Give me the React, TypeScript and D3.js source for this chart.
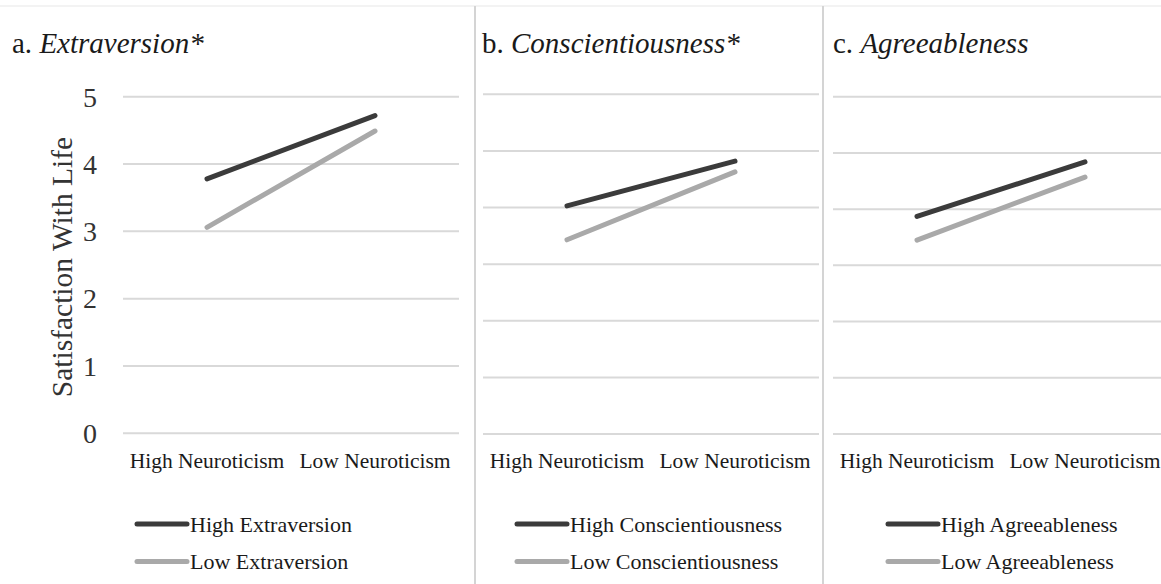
import React, { useEffect, useRef } from 'react';
import * as d3 from 'd3';

const categories = ['High Neuroticism', 'Low Neuroticism'];

const titlePrefixes = ['a. ', 'b. ', 'c. '];
const traitNames = ['Extraversion', 'Conscientiousness', 'Agreeableness'];
const titleStars = ['*', '*', ''];

const highExtraversion = [3.78, 4.72];
const lowExtraversion = [3.06, 4.49];
const highConscientiousness = [4.03, 4.82];
const lowConscientiousness = [3.43, 4.63];
const highAgreeableness = [3.87, 4.84];
const lowAgreeableness = [3.45, 4.57];

const yMaxes = [5, 6, 6];
const yTickLabels = ['0', '1', '2', '3', '4', '5'];

const FONT = "'Liberation Serif', 'Times New Roman', serif";
const DARK = '#3b3b3b';
const LIGHT = '#a9a9a9';
const GRID = '#d9d9d9';

interface Panel {
  plotX: [number, number];
  plotY: [number, number];
  titleX: number;
  legendX: number;
  high: number[];
  low: number[];
  showAxis: boolean;
}

const W = 1161;
const H = 584;

const App: React.FC = () => {
  const ref = useRef<SVGSVGElement | null>(null);

  useEffect(() => {
    const panels: Panel[] = [
      { plotX: [123, 459], plotY: [433.3, 96.7], titleX: 12, legendX: 137, high: highExtraversion, low: lowExtraversion, showAxis: true },
      { plotX: [483, 819], plotY: [434, 94.3], titleX: 482, legendX: 517, high: highConscientiousness, low: lowConscientiousness, showAxis: false },
      { plotX: [833, 1169], plotY: [434, 96.7], titleX: 833, legendX: 888, high: highAgreeableness, low: lowAgreeableness, showAxis: false },
    ];

    const svg = d3.select(ref.current);
    svg.selectAll('*').remove();
    svg.attr('width', W).attr('height', H).attr('viewBox', `0 0 ${W} ${H}`);

    svg.append('rect').attr('width', W).attr('height', H).attr('fill', 'white');

    // faint outer top border
    svg.append('line')
      .attr('x1', 0).attr('x2', W).attr('y1', 6).attr('y2', 6)
      .attr('stroke', '#efefef').attr('stroke-width', 1.5);

    // panel dividers
    [475, 823].forEach(x => {
      svg.append('line')
        .attr('x1', x).attr('x2', x).attr('y1', 6).attr('y2', H)
        .attr('stroke', '#d4d4d4').attr('stroke-width', 2);
    });

    panels.forEach((p, i) => {
      const g = svg.append('g');

      const x = d3.scalePoint<string>().domain(categories).range(p.plotX).padding(0.5);
      const y = d3.scaleLinear().domain([0, yMaxes[i]]).range(p.plotY);

      // title
      const title = g.append('text')
        .attr('x', p.titleX).attr('y', 53)
        .attr('font-family', FONT).attr('font-size', 29).attr('fill', '#1a1a1a');
      title.append('tspan').text(titlePrefixes[i]);
      title.append('tspan').attr('font-style', 'italic').text(traitNames[i] + titleStars[i]);

      // gridlines
      g.append('g')
        .selectAll('line')
        .data(d3.range(0, yMaxes[i] + 1))
        .enter().append('line')
        .attr('x1', p.plotX[0]).attr('x2', p.plotX[1])
        .attr('y1', d => y(d)).attr('y2', d => y(d))
        .attr('stroke', GRID).attr('stroke-width', 2);

      if (p.showAxis) {
        g.append('g')
          .selectAll('text')
          .data(yTickLabels)
          .enter().append('text')
          .attr('x', 97).attr('y', d => y(+d))
          .attr('dy', '0.35em')
          .attr('text-anchor', 'end')
          .attr('font-family', FONT).attr('font-size', 28).attr('fill', '#333')
          .text(d => d);

        g.append('text')
          .attr('transform', `translate(72,${(p.plotY[0] + p.plotY[1]) / 2 + 2}) rotate(-90)`)
          .attr('text-anchor', 'middle')
          .attr('font-family', FONT).attr('font-size', 29.5).attr('fill', '#333')
          .text('Satisfaction With Life');
      }

      // category labels
      g.append('g')
        .selectAll('text')
        .data(categories)
        .enter().append('text')
        .attr('x', d => x(d)!).attr('y', 468)
        .attr('text-anchor', 'middle')
        .attr('font-family', FONT).attr('font-size', 21.5).attr('fill', '#1a1a1a')
        .text(d => d);

      const line = d3.line<number>()
        .x((_, j) => x(categories[j])!)
        .y(d => y(d));

      g.append('path')
        .attr('d', line(p.low)!)
        .attr('fill', 'none').attr('stroke', LIGHT)
        .attr('stroke-width', 5).attr('stroke-linecap', 'round');

      g.append('path')
        .attr('d', line(p.high)!)
        .attr('fill', 'none').attr('stroke', DARK)
        .attr('stroke-width', 5).attr('stroke-linecap', 'round');

      // legend
      const rows = [
        { label: 'High ' + traitNames[i], color: DARK, ly: 524 },
        { label: 'Low ' + traitNames[i], color: LIGHT, ly: 561.5 },
      ];
      rows.forEach(r => {
        g.append('line')
          .attr('x1', p.legendX).attr('x2', p.legendX + 50)
          .attr('y1', r.ly).attr('y2', r.ly)
          .attr('stroke', r.color).attr('stroke-width', 5).attr('stroke-linecap', 'round');
        g.append('text')
          .attr('x', p.legendX + 53).attr('y', r.ly + 7.5)
          .attr('font-family', FONT).attr('font-size', 22).attr('fill', '#1a1a1a')
          .text(r.label);
      });
    });
  }, []);

  return (
    <div style={{ position: 'absolute', left: 0, top: 0 }}>
      <svg ref={ref} style={{ display: 'block' }}></svg>
    </div>
  );
};

export default App;
